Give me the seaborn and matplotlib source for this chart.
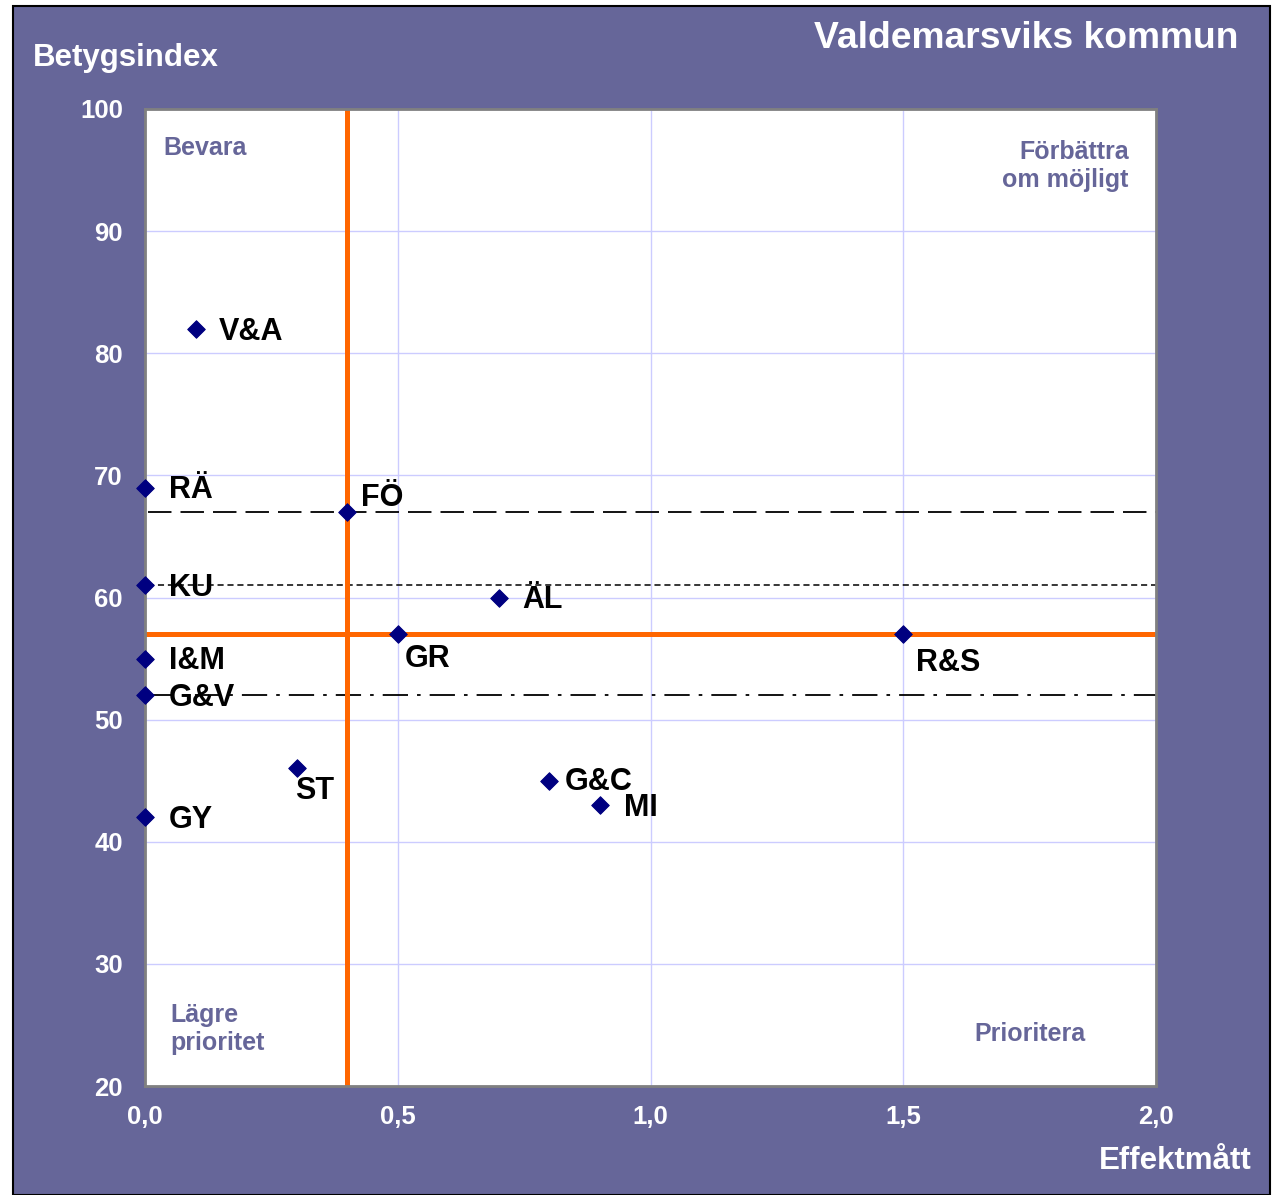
import matplotlib
matplotlib.use('Agg')
import matplotlib.pyplot as plt
from matplotlib.patches import Rectangle
import pandas as pd
import seaborn as sns

# data
labels = ['V&A', 'RÄ', 'FÖ', 'KU', 'ÄL', 'GR', 'R&S', 'I&M', 'G&V', 'ST', 'G&C', 'MI', 'GY']
effekt = [0.1, 0.0, 0.4, 0.0, 0.7, 0.5, 1.5, 0.0, 0.0, 0.3, 0.8, 0.9, 0.0]
betyg = [82, 69, 67, 61, 60, 57, 57, 55, 52, 46, 45, 43, 42]

x_ticks = [0.0, 0.5, 1.0, 1.5, 2.0]
x_ticklabels = ['0,0', '0,5', '1,0', '1,5', '2,0']
y_ticks = [20, 30, 40, 50, 60, 70, 80, 90, 100]

mean_x = 0.4
mean_y = 57
ref_dashed = 67
ref_dotted = 61
ref_dashdot = 52

df = pd.DataFrame({'label': labels, 'x': effekt, 'y': betyg})

# label offsets in points (dx, dy)
offsets = {
    'V&A': (17, -2), 'RÄ': (17, -2), 'FÖ': (10, 10), 'KU': (17, -2),
    'ÄL': (17, -2), 'GR': (5, -18), 'R&S': (9, -21), 'I&M': (17, -2),
    'G&V': (17, -2), 'ST': (-1, -16), 'G&C': (11, -1), 'MI': (17, -2),
    'GY': (17, -2),
}

purple = '#666699'
orange = '#FF6600'

sns.set_theme(style='white')
plt.rcParams['font.family'] = ['Liberation Sans', 'DejaVu Sans']
plt.rcParams['font.weight'] = 'bold'

fig = plt.figure(figsize=(12.73, 11.95), dpi=100, facecolor='white')
bg = Rectangle((13 / 1273, 0), 1257 / 1273, 1 - 6 / 1195,
               transform=fig.transFigure, facecolor=purple,
               edgecolor='black', linewidth=1.5, zorder=-10)
fig.patches.append(bg)

ax = fig.add_axes([145 / 1273, 1 - 1086 / 1195, 1011 / 1273, 977 / 1195])
ax.set_facecolor('white')

ax.set_xlim(0, 2)
ax.set_ylim(20, 100)
ax.set_xticks(x_ticks)
ax.set_xticklabels(x_ticklabels)
ax.set_yticks(y_ticks)
ax.grid(True, color='#CCCCFF', linewidth=1, zorder=0)

ax.axhline(ref_dashed, xmin=0.003, color='black', linewidth=1.3,
           linestyle=(0, (13, 5)), zorder=2)
ax.axhline(ref_dotted, xmin=0.003, color='black', linewidth=1.1,
           linestyle=(0, (4, 2.5)), zorder=2)
ax.axhline(ref_dashdot, xmin=0.003, color='black', linewidth=1.3,
           linestyle=(0, (14, 5, 2, 5)), zorder=2)
ax.axvline(mean_x, color=orange, linewidth=3.6, zorder=3)
ax.axhline(mean_y, color=orange, linewidth=3.6, zorder=3)

for side in ['left', 'right', 'top', 'bottom']:
    ax.spines[side].set_color('#808080')
    ax.spines[side].set_linewidth(2)
    ax.spines[side].set_zorder(4)

sns.scatterplot(data=df, x='x', y='y', marker='D', s=80, color='#000080',
                edgecolor='#000080', ax=ax, zorder=10, clip_on=False)

for lab, xv, yv in zip(labels, effekt, betyg):
    dx, dy = offsets[lab]
    ax.annotate(lab, (xv, yv), xytext=(dx, dy), textcoords='offset points',
                ha='left', va='center', fontsize=22, fontweight='bold',
                color='black', zorder=6)

ax.tick_params(axis='both', direction='in', length=6, width=1, color='#808080',
               labelcolor='white', labelsize=18.5)
ax.tick_params(axis='y', pad=16)
ax.tick_params(axis='x', pad=14)
for t in ax.get_xticklabels() + ax.get_yticklabels():
    t.set_fontweight('bold')

ax.set_xlabel('')
ax.set_ylabel('')

# quadrant labels
ax.text(0.018, 0.96, 'Bevara', transform=ax.transAxes, ha='left', va='center',
        fontsize=18, fontweight='bold', color=purple)
ax.text(0.973, 0.942, 'Förbättra\nom möjligt', transform=ax.transAxes,
        ha='right', va='center', fontsize=18, fontweight='bold', color=purple,
        multialignment='right', linespacing=1.2)
ax.text(0.025, 0.058, 'Lägre\nprioritet', transform=ax.transAxes, ha='left',
        va='center', fontsize=18, fontweight='bold', color=purple, linespacing=1.2)
ax.text(0.93, 0.053, 'Prioritera', transform=ax.transAxes, ha='right',
        va='center', fontsize=18, fontweight='bold', color=purple)

fig.text(1238 / 1273, 1 - 38 / 1195, 'Valdemarsviks kommun', ha='right',
         va='center', fontsize=26.8, fontweight='bold', color='white')
fig.text(33 / 1273, 1 - 58 / 1195, 'Betygsindex', ha='left', va='center',
         fontsize=22.5, fontweight='bold', color='white')
fig.text(1252 / 1273, 1 - 1161 / 1195, 'Effektmått', ha='right', va='center',
         fontsize=22.5, fontweight='bold', color='white')

fig.savefig('out.png', dpi=100, facecolor=fig.get_facecolor())
